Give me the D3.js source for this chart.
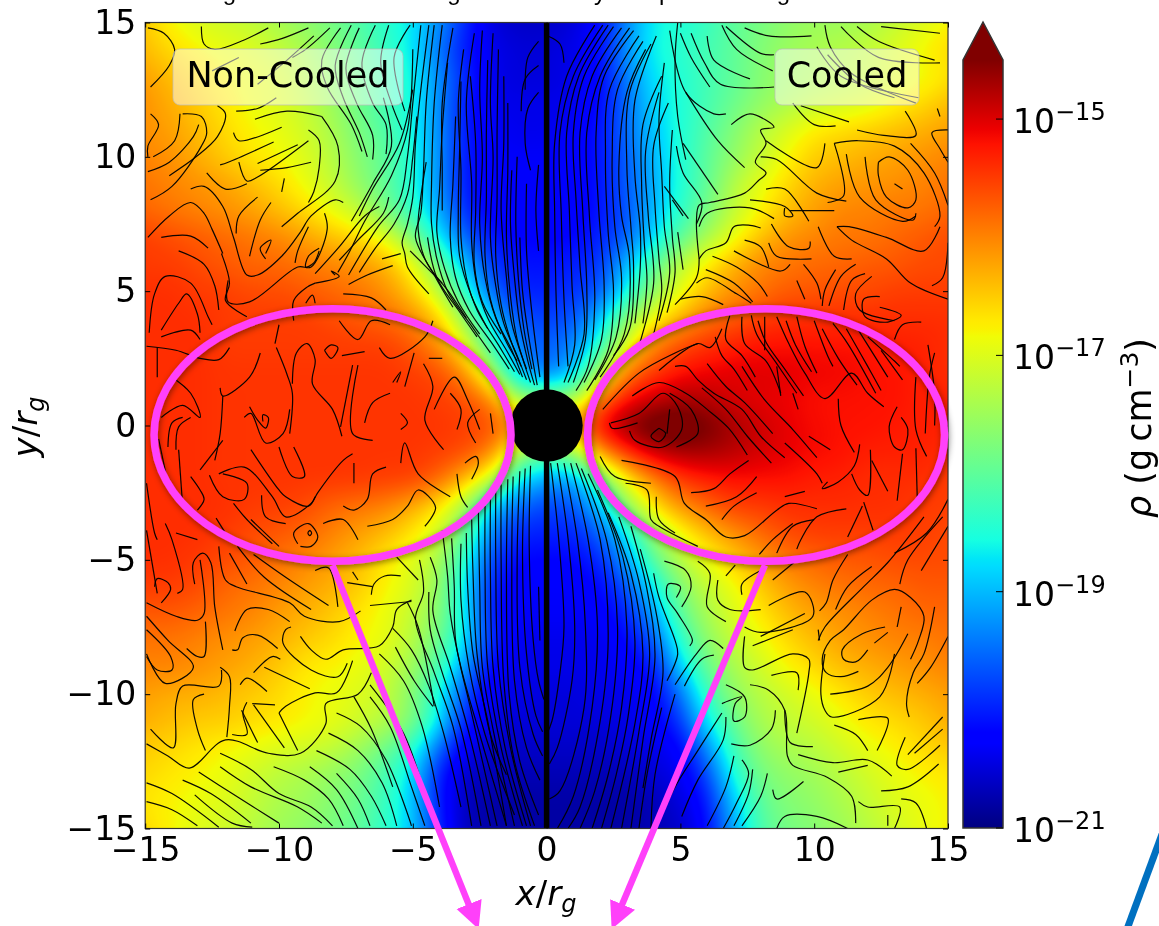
<!DOCTYPE html>
<meta charset="utf-8">
<style>
  html, body { margin: 0; background: #fff; overflow: hidden; }
  #wrap { position: relative; width: 1159px; height: 926px; filter: blur(0.45px); }
  canvas, svg { position: absolute; left: 0; top: 0; }
  text { font-family: "DejaVu Sans", sans-serif; fill: #000; }
</style>

<div id="wrap"></div>

<!-- Load d3.js -->
<script src="https://d3js.org/d3.v7.min.js"></script>

<script>

// tick values
var xTicks = [-15, -10, -5, 0, 5, 10, 15];
var yTicks = [-15, -10, -5, 0, 5, 10, 15];
var cbarTicks = [-21, -19, -17, -15];

// log10 density, rows from y=15 down to y=-15, columns from x=-15 to x=15
var rhoRows = [
  [-16.5,-16.8,-17.0,-17.1,-17.2,-17.4,-17.6,-17.8,-18.1,-18.4,-18.7,-19.3,-20.0,-20.5,-20.6,-20.6,-20.5,-20.2,-19.3,-18.6,-18.5,-18.3,-18.0,-17.8,-17.6,-17.5,-17.5,-17.4,-17.2,-17.0,-16.8],
  [-16.4,-16.6,-16.8,-16.9,-17.0,-17.2,-17.4,-17.7,-18.0,-18.3,-18.7,-19.5,-20.1,-20.4,-20.5,-20.5,-20.4,-20.2,-19.2,-18.6,-18.4,-18.2,-18.0,-17.7,-17.5,-17.4,-17.3,-17.2,-17.0,-16.8,-16.6],
  [-16.2,-16.4,-16.6,-16.8,-16.9,-17.0,-17.3,-17.6,-17.9,-18.2,-18.6,-19.3,-20.0,-20.4,-20.5,-20.5,-20.4,-20.2,-19.4,-18.7,-18.5,-18.2,-18.0,-17.7,-17.5,-17.4,-17.3,-17.2,-17.0,-16.9,-16.7],
  [-16.1,-16.3,-16.5,-16.7,-16.9,-17.0,-17.2,-17.5,-17.9,-18.2,-18.6,-19.3,-20.1,-20.4,-20.4,-20.4,-20.4,-20.2,-19.5,-18.8,-18.5,-18.2,-17.9,-17.6,-17.4,-17.2,-17.1,-17.0,-16.8,-16.6,-16.4],
  [-16.1,-16.2,-16.4,-16.6,-16.8,-16.9,-17.1,-17.4,-17.8,-18.1,-18.6,-19.3,-20.1,-20.3,-20.4,-20.4,-20.3,-20.1,-19.5,-18.9,-18.5,-18.1,-17.7,-17.3,-17.0,-16.7,-16.6,-16.5,-16.4,-16.3,-16.2],
  [-16.0,-16.1,-16.3,-16.5,-16.7,-16.8,-17.0,-17.3,-17.7,-18.0,-18.5,-19.3,-20.1,-20.3,-20.3,-20.3,-20.3,-20.1,-19.6,-19.0,-18.5,-18.0,-17.6,-17.2,-16.8,-16.5,-16.4,-16.3,-16.2,-16.1,-16.0],
  [-15.9,-16.0,-16.1,-16.2,-16.4,-16.6,-16.9,-17.2,-17.6,-18.0,-18.5,-19.3,-20.1,-20.3,-20.3,-20.3,-20.3,-20.1,-19.6,-19.1,-18.5,-18.0,-17.3,-16.9,-16.6,-16.3,-16.2,-16.1,-16.1,-16.0,-15.9],
  [-15.8,-15.9,-16.0,-16.1,-16.2,-16.4,-16.6,-16.9,-17.2,-17.8,-18.4,-19.1,-20.0,-20.3,-20.3,-20.3,-20.3,-20.1,-19.7,-19.0,-18.4,-17.8,-17.2,-16.8,-16.4,-16.2,-16.0,-16.0,-15.9,-15.9,-15.8],
  [-15.5,-15.6,-15.7,-15.8,-15.9,-16.0,-16.2,-16.4,-16.6,-16.9,-17.7,-18.7,-19.6,-20.1,-20.2,-20.2,-20.2,-20.0,-19.6,-18.8,-18.0,-17.4,-16.9,-16.4,-16.1,-16.0,-15.9,-15.9,-15.8,-15.7,-15.6],
  [-15.5,-15.5,-15.6,-15.7,-15.8,-15.8,-15.9,-16.0,-16.1,-16.3,-16.8,-17.9,-19.0,-19.9,-20.1,-20.1,-20.0,-19.9,-19.0,-18.0,-17.2,-16.7,-16.3,-16.0,-15.9,-15.8,-15.8,-15.7,-15.7,-15.6,-15.6],
  [-15.4,-15.4,-15.5,-15.5,-15.6,-15.6,-15.7,-15.8,-15.9,-16.1,-16.5,-17.2,-18.5,-19.6,-20.0,-20.0,-19.9,-19.7,-18.6,-17.6,-16.9,-16.4,-16.1,-15.9,-15.7,-15.7,-15.6,-15.6,-15.5,-15.5,-15.5],
  [-15.4,-15.4,-15.4,-15.5,-15.5,-15.5,-15.5,-15.6,-15.7,-15.8,-16.0,-16.5,-17.6,-19.0,-19.7,-19.8,-19.7,-19.0,-17.6,-16.8,-16.3,-15.9,-15.7,-15.5,-15.4,-15.4,-15.4,-15.4,-15.4,-15.4,-15.4],
  [-15.4,-15.4,-15.4,-15.5,-15.5,-15.5,-15.5,-15.5,-15.5,-15.5,-15.7,-16.1,-16.9,-18.4,-19.5,-19.6,-19.4,-18.4,-16.9,-16.0,-15.6,-15.4,-15.3,-15.2,-15.2,-15.2,-15.2,-15.2,-15.3,-15.3,-15.4],
  [-15.4,-15.4,-15.4,-15.45,-15.45,-15.45,-15.45,-15.45,-15.45,-15.45,-15.5,-15.6,-16.1,-17.4,-19.2,-19.6,-19.0,-17.4,-15.9,-15.5,-15.2,-15.1,-15.0,-15.0,-15.0,-15.1,-15.1,-15.2,-15.2,-15.3,-15.4],
  [-15.4,-15.4,-15.4,-15.45,-15.45,-15.45,-15.45,-15.45,-15.45,-15.45,-15.45,-15.5,-15.6,-16.0,-17.5,-17.5,-17.5,-15.9,-15.2,-14.9,-14.7,-14.8,-15.0,-15.05,-15.1,-15.2,-15.2,-15.2,-15.2,-15.3,-15.3],
  [-15.4,-15.4,-15.4,-15.45,-15.45,-15.45,-15.45,-15.45,-15.45,-15.45,-15.45,-15.45,-15.5,-15.6,-16.0,-16.0,-16.0,-15.0,-14.5,-14.2,-14.2,-14.4,-14.7,-14.9,-15.05,-15.15,-15.2,-15.2,-15.25,-15.3,-15.3],
  [-15.4,-15.4,-15.4,-15.45,-15.45,-15.45,-15.45,-15.45,-15.45,-15.45,-15.45,-15.5,-15.6,-16.0,-17.5,-18.0,-17.5,-16.2,-15.4,-14.9,-14.7,-14.7,-14.8,-14.95,-15.05,-15.15,-15.2,-15.3,-15.3,-15.3,-15.4],
  [-15.4,-15.4,-15.4,-15.45,-15.45,-15.45,-15.45,-15.45,-15.45,-15.5,-15.5,-15.8,-16.4,-17.2,-18.8,-19.2,-19.3,-18.0,-16.8,-16.0,-15.5,-15.3,-15.2,-15.2,-15.2,-15.3,-15.3,-15.4,-15.4,-15.4,-15.5],
  [-15.4,-15.4,-15.4,-15.4,-15.5,-15.5,-15.6,-15.8,-15.9,-16.0,-16.3,-16.7,-17.5,-19.0,-19.6,-19.8,-19.7,-19.0,-17.6,-16.7,-16.1,-15.8,-15.5,-15.5,-15.4,-15.4,-15.4,-15.4,-15.4,-15.5,-15.5],
  [-15.4,-15.4,-15.4,-15.5,-15.6,-15.7,-15.8,-16.0,-16.2,-16.4,-16.7,-17.1,-18.0,-19.5,-20.0,-20.0,-20.0,-19.6,-18.7,-17.5,-16.9,-16.4,-16.1,-15.8,-15.6,-15.5,-15.5,-15.5,-15.5,-15.5,-15.6],
  [-15.4,-15.4,-15.5,-15.6,-15.7,-15.9,-16.0,-16.2,-16.4,-16.7,-17.0,-17.4,-18.5,-19.9,-20.2,-20.2,-20.2,-20.0,-19.2,-18.0,-17.3,-16.9,-16.5,-16.2,-15.9,-15.8,-15.7,-15.7,-15.6,-15.6,-15.6],
  [-15.5,-15.5,-15.6,-15.8,-15.9,-16.0,-16.2,-16.3,-16.5,-16.8,-17.0,-17.6,-18.8,-20.1,-20.3,-20.3,-20.3,-20.2,-19.7,-18.7,-17.7,-17.2,-16.9,-16.5,-16.2,-16.0,-15.9,-15.8,-15.8,-15.7,-15.7],
  [-15.7,-15.7,-15.8,-15.9,-16.0,-16.2,-16.3,-16.5,-16.7,-16.9,-17.2,-17.7,-18.7,-20.2,-20.3,-20.3,-20.3,-20.3,-20.0,-19.2,-18.0,-17.4,-17.0,-16.7,-16.4,-16.2,-16.1,-16.0,-15.9,-15.8,-15.8],
  [-15.9,-15.9,-16.0,-16.1,-16.2,-16.3,-16.5,-16.6,-16.8,-16.9,-17.3,-17.9,-18.8,-20.0,-20.4,-20.4,-20.4,-20.4,-20.2,-19.7,-18.4,-17.6,-17.2,-16.9,-16.6,-16.4,-16.2,-16.1,-16.0,-16.0,-15.9],
  [-16.0,-16.0,-16.1,-16.2,-16.3,-16.5,-16.7,-16.8,-16.9,-17.1,-17.5,-18.2,-19.3,-20.3,-20.4,-20.4,-20.4,-20.4,-20.3,-20.1,-18.9,-17.9,-17.4,-17.1,-16.8,-16.6,-16.4,-16.3,-16.2,-16.1,-16.0],
  [-16.2,-16.3,-16.3,-16.4,-16.5,-16.6,-16.8,-16.9,-17.0,-17.2,-17.7,-18.6,-19.8,-20.4,-20.4,-20.5,-20.5,-20.4,-20.4,-20.3,-19.5,-18.3,-17.6,-17.3,-17.1,-16.9,-16.7,-16.5,-16.4,-16.3,-16.2],
  [-16.3,-16.4,-16.5,-16.5,-16.6,-16.7,-16.8,-16.9,-17.1,-17.3,-17.7,-18.7,-20.1,-20.5,-20.5,-20.5,-20.5,-20.5,-20.4,-20.3,-19.9,-18.7,-17.9,-17.4,-17.2,-17.1,-16.9,-16.7,-16.6,-16.5,-16.3],
  [-16.5,-16.6,-16.7,-16.8,-16.9,-17.0,-17.1,-17.2,-17.5,-17.9,-18.4,-19.6,-20.4,-20.6,-20.6,-20.6,-20.6,-20.6,-20.5,-20.4,-20.3,-19.3,-18.2,-17.6,-17.4,-17.3,-17.1,-16.9,-16.8,-16.6,-16.5],
  [-16.6,-16.7,-16.8,-16.9,-17.1,-17.3,-17.4,-17.6,-17.8,-18.2,-18.8,-20.1,-20.6,-20.7,-20.7,-20.7,-20.7,-20.7,-20.7,-20.5,-20.4,-19.8,-18.5,-17.8,-17.6,-17.5,-17.3,-17.1,-16.9,-16.8,-16.7],
  [-16.7,-16.8,-16.9,-17.0,-17.2,-17.4,-17.5,-17.7,-17.9,-18.3,-18.9,-20.1,-20.7,-20.8,-20.8,-20.8,-20.8,-20.8,-20.8,-20.7,-20.5,-20.1,-18.9,-18.0,-17.7,-17.6,-17.4,-17.2,-17.0,-16.9,-16.8],
  [-16.6,-16.8,-17.0,-17.1,-17.3,-17.5,-17.6,-17.8,-18.0,-18.4,-18.9,-20.0,-20.7,-20.8,-20.8,-20.8,-20.8,-20.8,-20.8,-20.7,-20.6,-20.2,-19.1,-18.1,-17.8,-17.7,-17.5,-17.3,-17.1,-16.9,-16.8]
];

var linesUpperLeft = [
  [-14.9,14.8,-14.3,14.6,-13.9,14.0,-14.1,13.4,-14.8,12.6],
  [-12.9,14.85,-12.8,14.2,-12.4,14.0,-11.3,14.35,-10.4,14.8],
  [-10.7,14.2,-9.9,14.4,-8.9,14.8],
  [-12.5,13.2,-11.5,13.7],
  [-8.7,14.5,-9.7,13.6,-10.8,12.7],
  [-8.1,14.8,-9,14,-9.5,13.7],
  [-11.6,11.7,-10.8,11.8,-10.1,12.2],
  [-14.8,11.6,-14.5,11.2,-14.9,10.4,-14.9,10],
  [-14.7,10,-13.9,10.6,-13.7,11.6],
  [-14.9,9.45,-14.1,9.8,-13.2,10.75,-13,11.2],
  [-14.8,8.4,-14,8.9,-12.9,10.4,-12.7,10.9,-12.9,11.5,-13.6,11.6],
  [-14.1,9.3,-13.1,10,-12.3,10.75,-12,11.6,-12.3,11.9],
  [-14.9,7,-14.1,7.8,-13.3,8.3,-12.8,7.9,-12.5,7.3,-12.1,6.4],
  [-13.3,8.8,-12.8,8.9,-12.1,8.15,-11.7,7,-11.2,5.6,-10.8,5.6,-9.9,6.3,-9.2,7.2,-8.8,7.8,-7.9,8.4,-7.6,8.3],
  [-12.7,9.4,-12,8.8,-11.2,9],
  [-11.7,10.9,-11.5,10.6,-9.9,11.1],
  [-10.9,11.4,-9.7,11.7,-8.4,11.5],
  [-12.2,9.7,-11.9,9.8,-10.2,10.55],
  [-11.5,9.8,-11.2,9.1,-10.8,9.25,-8.9,10.6],
  [-10.8,9.75,-9.3,10.45],
  [-10.7,9.5,-9.7,9.6,-8.8,9.8],
  [-9.8,9.2,-9.9,8.7],
  [-8.9,11,-8.5,10.6,-8.5,9.6,-8.7,8.7,-8.9,8.3],
  [-8.4,11.5,-7.8,10.4,-7.9,9.1,-9.3,7.9,-9.9,7.4],
  [-10.8,8.5,-11.5,7.8,-11.6,7.15],
  [-10.3,8.3,-10.7,7.65,-11.1,6.3],
  [-10.5,6.2,-10.7,6.6,-10.3,6.9,-10.5,6.4],
  [-8.9,7.4,-9.3,6.5,-9.4,6.05],
  [-8.5,6.6,-8.9,6.3,-9,5.9,-8.7,6.05,-8.5,6.5],
  [-8.3,7.9,-8.2,7.3,-8.8,5.9,-9.3,5.9,-11.1,4.6,-11.9,4.6,-11.9,5.4],
  [-14.85,3.45,-14.65,4.9,-14.25,5.55,-13.3,5.3,-12.65,4.05,-12.5,3.75],
  [-14.4,3.55,-13.75,4.55,-13.45,4.9,-13.05,4.15,-12.95,3.45],
  [-14.4,3.3,-13.3,3.55,-12.95,3.2],
  [-14.95,2.95,-13.85,2.8,-12.95,2.5,-12.25,2.45,-11.85,2.9],
  [-14.55,1.8,-14.55,2.9],
  [-14.4,7,-13.3,7.05,-12.65,6.6],
  [-13.75,6.5,-12.8,6,-12.4,5.2,-12.25,4.3],
  [-12.15,6.4,-11.85,5.3,-12,4.65,-11.2,4.05],
  [-9.45,3.9,-9.45,4.65,-8.95,5.15,-8.65,5.3],
  [-9,4.55,-8.75,4.85,-8.65,4.55],
  [-8.65,5.3,-7.75,5.55,-8.05,5.75,-7.9,5.6],
  [-7.6,4.9,-6.55,4.75,-6,4.3],
  [-7.4,5.25,-6.7,5.6,-5.75,5.95],
  [-6.15,6.2,-5.45,6.4],
  [-7.75,6.15,-7.05,6.9,-6.1,7.9,-5.9,8.5],
  [-8.65,5.65,-7.75,6.65,-6.8,7.8,-6.25,8.15],
  [-7.7,14.8,-8.4,13.6,-8.2,12.6,-7.3,11.2,-6.9,10.2],
  [-7.3,14.9,-7.9,13.4,-7.6,12.2,-7,10.9,-6.7,10],
  [-7,14.8,-7.5,13.3,-7.1,12,-6.5,10.8,-6.5,9.9],
  [-6.4,14.9,-6.9,13.5,-6.5,12,-6,11.2,-6,10.1],
  [-5.9,14.9,-6.2,13.5,-5.8,12,-5.4,11],
  [-5.1,14.9,-5.7,13.7,-5.3,11.7],
  [-6.1,12.2,-5.8,10.4,-6.5,9,-7.3,7.6],
  [-5,12.5,-5.5,10.5,-6.5,8.8,-7,7.8],
  [-5,14,-5.2,11,-5.8,9.3,-6.8,7.6,-7.4,6.4,-7.8,5.7],
  [-4.7,14.9,-5,12,-5.2,10,-5.5,8.4,-6.3,7.4,-7.4,5.6],
  [-4.85,11.5,-5,10,-5.2,8.6,-5.7,7.5,-6.4,6.6,-7,5.7],
  [-4.4,14.9,-4.7,12.5,-4.9,10.5,-5,8.5,-5.2,7.5,-5.4,6.8,-5.3,6.4,-5.2,5.9,-4.4,4.9],
  [-5.1,6.5,-3.9,5.3],
  [-4.5,9.8,-4.7,8.5,-4.8,7.3,-4.5,6.1,-3.6,4.9,-3,4],
  [-4.45,7,-4.1,5.5,-3.3,4.3,-2.6,3.3]
];

var linesFunnelTop = [
  [-4.2,14.9,-4.5,12,-4.6,9.5,-4.7,7.9,-4.9,7.0,-4.2,5.6,-3.5,4.4],
  [-3.9,14.9,-4.2,12,-4.3,9,-4.3,7.5,-4.1,6.2,-3.7,5,-2.8,3.7,-2.1,2.7],
  [-3.7,13.5,-3.9,11,-4,8.8,-4.1,7.2,-3.8,5.8,-3.3,4.6,-2.5,3.4],
  [-3.5,14.8,-3.9,12,-3.9,9.5,-3.9,8],
  [-3.4,11.5,-3.5,9,-3.6,7,-3.4,5.5,-2.9,4.3,-2,3,-1.4,2.1],
  [-3.2,12.8,-3.25,10.3,-3.3,8,-3.25,6.3,-2.8,4.8,-2.2,3.6],
  [-3.1,14,-3.3,12,-3.2,9.5,-3.2,7,-3,5.5,-2.6,4.3,-1.8,3,-1.2,2],
  [-2.85,13,-2.65,10.5,-2.65,8,-2.7,6,-2.4,4.6,-1.7,3.4],
  [-2.7,14.6,-3,12,-2.8,9,-2.8,6.8,-2.6,5.2,-2.2,4,-1.5,2.8,-1,1.9],
  [-2.4,14.7,-2.5,12.5,-2.4,10,-2.5,7.5,-2.3,5.5,-1.9,4,-1.3,2.8,-0.9,1.8],
  [-2.2,13.6,-2.25,11,-2.25,8.5,-2.3,6.3,-2.1,4.7,-1.6,3.3,-1.1,2.4],
  [-2,14.6,-2.1,12,-2,10,-2.1,7,-1.9,5.2,-1.6,3.8,-1.1,2.6,-0.75,1.7],
  [-1.8,14,-1.85,11,-1.85,8.5,-1.9,6.3,-1.7,4.5,-1.35,3.2,-0.95,2.2],
  [-1.6,13,-1.6,10.5,-1.7,8,-1.5,5.5,-1.3,3.8,-0.9,2.5,-0.6,1.6],
  [-1.45,12,-1.45,9.5,-1.5,7,-1.35,4.8,-1.1,3.2,-0.75,2.1],
  [-1.3,9.5,-1.35,7.5,-1.2,5.5,-1,3.8,-0.7,2.4,-0.45,1.5],
  [-1.1,10,-1.15,7.5,-1.05,5.4,-0.85,3.6,-0.55,2.1],
  [-1,7,-0.9,5,-0.7,3.5,-0.35,1.5],
  [-0.75,9,-0.75,6.5,-0.55,4.2,-0.25,1.8],
  [-0.3,14.3,-0.7,13.7,-0.8,12.5],
  [-0.3,13.4,-0.8,12.9,-0.95,11.7],
  [-0.3,12.4,-0.7,11.8,-0.8,10.5,-0.6,9.5],
  [-0.3,9.7,-0.4,8,-0.3,6.5],
  [0.05,14.5,0.5,14.2,0.65,13.5],
  [1.8,14.9,0.75,13,0.3,10.5,0.3,8,0.35,5,0.45,2.2],
  [2.1,14.9,1,13,0.5,10.9,0.55,7.8,0.65,4.7,0.8,2.2],
  [2.3,14.9,1.2,13,0.75,10.9,0.85,8,0.95,5.2,1.05,3,0.65,1.6],
  [2.5,14.85,1.4,13,1,10.9,1.1,8.4,1.25,5.9,1.4,3.4,0.8,1.6],
  [2.8,14.8,1.7,13,1.25,10.9,1.35,8,1.5,5.2,1.45,3.2,1,1.6],
  [3.1,14.8,2,13,1.5,10.9,1.6,7.8,1.8,4.7,1.55,2.2,1.1,1.3],
  [3.25,14.7,2.15,13,1.85,10.9,1.95,8,2.15,5.2,2.05,3.2,1.4,1.6],
  [3.45,14.5,2.35,12.5,2.2,10,2.3,7.2,2.5,5,2.3,2.8,1.5,1.3],
  [3.6,14.3,2.65,12.5,2.45,10,2.55,7.4,2.8,5.5,2.6,3.3,1.8,1.7],
  [3.7,14,3,12.4,2.7,9.6,2.8,7.8,3.1,6.2,2.9,3.4,2,1.8],
  [3.9,14.2,3.1,12.4,3,9.6,3.15,7.4,3.25,5.9,3.1,3.6,2.5,2.6],
  [4.1,14.5,3.3,12.1,3.3,9.3,3.5,7.3,3.5,5.9,3.3,3.8],
  [4.3,13,3.6,11.2,3.55,9,3.65,6.8,3.75,5.4,3.6,3.8],
  [4.2,12.4,3.7,10.2,3.8,7.8,4,5.3,3.4,2.8],
  [4.55,12,4,10.4,4.05,8.2,4.2,6.2,4.3,5,4.0,3.4],
  [4.4,13.5,4.2,11.4,4.3,9.4,4.4,7.4,4.6,5.7,4.2,3.9],
  [4.7,11,4.6,9,4.7,7,4.8,5.7,4.5,4.2]
];

var linesUpperRight = [
  [4.9,15,4.8,13.6,4.9,11.5,5.2,9.9],
  [5,14.6,5.4,13.7,6.1,12.6],
  [4.6,14.7,5.2,12.4,6.25,11.6,6.7,11.6],
  [5.4,14.6,5.9,13.5,6.5,12.7,8.5,12.6],
  [6,14.5,6.25,13.6,7.6,12.9],
  [6.55,14.9,7.1,14,8.45,13.2],
  [7.4,14.8,8.3,14.5,9.9,14.5],
  [6.7,14.85,8,13.85,8.5,13.8],
  [10.4,14.9,10.6,14.1,11.4,13.1,13.8,12],
  [10.1,14.1,11,13,13.9,12.2],
  [10.5,13.8,11.7,12.7,13,12.2],
  [11,14.85,12.4,13.7,14.7,13.5],
  [11.6,14.85,12.4,14.3,14.5,13.6],
  [12.5,14.85,14.7,14.6],
  [9.2,12,10,11.2,10.8,11.15],
  [9.5,11.9,11.3,11.3],
  [11.6,11,12.6,10.8,13.8,10.8,13.4,11.7],
  [14.6,11.8,14.7,11.5],
  [15,11,14.4,10.9,14.7,10.3,15,9.8],
  [13,9,13.3,8.8],
  [12.4,9.8,12.8,10,13.5,9.5,13.8,8.4,13.5,8.1,12.7,8.5,12.4,9.3,12.4,9.8],
  [11.9,10,12.3,8.4,13.7,7.65,13.8,7.9],
  [11.2,10.1,11.7,8.5,13.3,7.6,13.8,7.8],
  [10.75,10.5,11.1,8.55,10.5,8.3],
  [8,10,8.6,9.9,10.1,8.65,11.2,8.35],
  [10.75,10.5,11.6,10.6,13,10.4,14.1,9.4,14.7,7.8,14.5,7.4],
  [13.6,10.5,14.5,9.4,15,8.2],
  [8.2,10.6,10.1,9.6,10.4,10.5],
  [6.9,11.2,7.6,11.6,8.5,11.1,8,11,8.2,10.5,7.8,9.8,8.2,9.4,7.9,9.1,7.4,8.65,6.1,8.3,5.7,8.2,5.6,7.6,5.7,6.2],
  [5.1,10.5,6.4,8.6],
  [5.2,12.4,6.4,10.6,7.4,9.6],
  [4.85,10.4,5.1,9.4,5.8,8.3,5.6,7.5],
  [4.4,8.9,5.3,7.7],
  [4.7,8.4,5.1,7.8],
  [4.9,7.2,5.1,5.8],
  [5.7,7.4,6,7.9,7.6,8.1,8.5,7.7],
  [7.6,8.4,8.9,8.15,9.2,7.8,8.9,7.8,8.9,8.1],
  [8.2,8.8,8.9,8.8,9.8,7.6],
  [9.1,8,10.75,8],
  [8.4,7.5,9.05,6.65,9.8,6.6,9.85,6.85],
  [10.15,7.4,10.75,6.3,11.4,6.2],
  [10.85,7.4,11.3,7.4,12.7,7,14.1,6.5,14.7,7.4],
  [10.85,7.4,11.4,6.9,12.7,6.2,13.6,5.3,15,4.7],
  [15,6.8,14.8,5.5,14.4,5.2],
  [5.7,6.2,5.95,6.5,6.7,6.8,7,7.4,7.6,7.45,8,7.35],
  [7.4,6.9,8,6.65,8.3,5.9],
  [8.3,6.8,8.6,6.3,9.9,6.2],
  [7,6.5,8.75,5.75,9.1,6],
  [6.2,6.3,7.1,5.9,7.9,5.3,8.25,4.8],
  [5.95,5.8,7,5.3,7.7,4.6],
  [5.6,5.3,6,5.5,7.1,4.9,7.65,4.55],
  [5,4.7,5.8,4.8,6.6,4.5],
  [4.8,4.5,5.6,5.5,5.7,6.2],
  [9.6,6,10.1,5.3,10.25,4.7],
  [9.35,5.4,9.65,4.7],
  [10.8,5.8,10.4,5.05,10.3,4.45],
  [11.55,6,11,5.55,10.55,4.45],
  [11.9,5.65,11.4,5.4,11.1,4.3],
  [12.15,5.55,11.55,4.9,11.7,4.3,13,3.9],
  [12.45,4.8,11.85,4.7,11.9,4.05,12.75,3.85,13.25,4.1,12.45,4.4],
  [13,3.2,13.3,3.75,14,3.85]
];

var linesRightDisk = [
  [6.85,4.1,6.7,3.2,7.3,2.6,7.8,1.8],
  [6.3,3.3,6.55,2.6,7,2.1,7.5,1.3],
  [7.3,4.05,7.4,3.05,8.2,2.4,8.75,1.2],
  [7.65,4.1,7.85,3.4,8.6,2.3,9.35,1.2],
  [7.9,3.9,8.2,3.1,8.9,2.1,9.6,1.1],
  [8.15,4.05,8.15,2.8],
  [8.6,4.05,9.05,3.05,9.65,1.95,10.4,1,11.4,1.95,12,1.2,12.6,0.7],
  [8.95,3.9,9.3,3,9.9,2],
  [9.35,4.05,9.65,2.95,10.1,1.95],
  [10,3.9,10.5,2.6,10.7,2.2],
  [10.3,3.6,10.9,2.5,11.6,1.5],
  [10.7,3.8,11.25,3.05,12.3,1.2],
  [11.2,3.6,12,2.2,12.5,1.3],
  [11.65,3.55,12.75,1.8],
  [12,3.3,13,2.4,13.2,2.2],
  [12.5,2.8,13.3,1.7],
  [6.55,3.6,6.1,2.9,5.65,3.05,4.2,2.05],
  [5.65,3.05,4.8,2.7,3.45,1.95,2.1,0.6],
  [3.2,1.1,4.2,1.6,5.2,1.2,6,0.6,6.8,-0.1,7.5,-1.1],
  [5.8,1.4,6.7,0.6,7.5,-0.4,8.4,-1.4],
  [4.8,2.2,5.2,2.2,5.65,1.7,6.25,1.2,7.3,0.6,8,-0.4,8.9,-1.2],
  [6,2.3,6.7,1.45,7.4,0.85,8.45,-0.3],
  [7.3,2.2,8.15,0.95,9.2,-0.15,10.1,-1.2],
  [8.6,2.2,8.75,1.1],
  [9.2,1.2,9.4,0.6],
  [10.9,1,11,0,11.5,-1],
  [9.8,-0.4,10.6,-0.9],
  [2.4,0.1,3.45,0.45,4.35,1.2,4.9,0.7,5.05,-0.15,4.35,-0.8,3.3,-0.55,3.1,-0.2],
  [4.2,-0.1,3.9,-0.4,4.2,-0.6,4.45,-0.3,4.2,-0.1],
  [2.35,0.1,2.45,-0.1,3.4,0.1],
  [4.6,0.6,4.5,-0.3],
  [4.6,1.2,5.4,0.6,5.65,-0.3,4.85,-0.8],
  [13.1,0.7,12.8,-0.05,13,-0.8,13.3,-0.9,13.5,-0.15,13.25,0.3],
  [13.8,1.8,13.8,-0.15,14.2,-1.15],
  [14.5,2.7,14.3,1.8,14.15,-0.3],
  [14.25,3,14.5,1.2,14.5,0],
  [8.9,-0.65,10.1,-1.8,10.3,-2.15],
  [10.5,-2.1,10.3,-2.35,10.9,-2.1,11.5,-1.5,11.7,-0.7],
  [11.4,-1.8,11.7,-2.4,12,-2.6,12.1,-0.9],
  [12.15,-1.3,12.75,-2.45],
  [13.3,-1.05,13.1,-2.8],
  [13.8,-0.85,13.85,-2.65],
  [5.4,-2.5,6.25,-2.35,6.85,-1.8,7.55,-1.3],
  [5.95,-3,7.1,-2.65,7.85,-1.9],
  [6.55,-3.5,7,-3,7.85,-2.5],
  [2.8,-1.3,4.8,-1.9,5.15,-2.9,5.95,-3.5,6.7,-4.15,7.4,-4.1,8.6,-3.15,9.05,-2.9,10.1,-3.1],
  [8.9,-2.65,9.65,-2.45],
  [2,-1.15,2.55,-1.9,3.9,-2.15],
  [2.95,-2.15,3.75,-2.4,3.9,-3.5,4.2,-3.75,5.65,-4.5],
  [4.1,-2.65,4.2,-3.5,4.8,-4],
  [9.2,-3.65,8.45,-4.25,7.95,-4.8],
  [10,-3.5,9.2,-3.75,8.6,-4.75],
  [11.2,-3.1,10.1,-3.4,9.5,-4.25,9.35,-4.6],
  [11.85,-2.85,12.2,-3.9],
  [11.8,-3,11.25,-4.15]
];

var linesLowerRight = [
  [15,-2.75,14.2,-4,13,-4.75],
  [14.8,-3.4,13.5,-5,13.2,-5.9],
  [15,-3.75,14,-5.4],
  [14.1,-3.4,12.75,-5.1,11.85,-6,10.4,-7.5,10.15,-8],
  [11.25,-4.8,10.7,-5.75,10.45,-6.6,10.2,-6.9],
  [12.15,-5.25,11.25,-6,10.8,-6.85],
  [13.6,-8.7,13.9,-8,14.1,-7.1,13.6,-6.4,13,-6.1,12.15,-6.5,11.1,-7.6,10.6,-8,10.3,-8.7,10.45,-9.2,11,-9.35,11.65,-9.15],
  [14.5,-6.75,14.1,-8.5,13.7,-9.2,13.45,-10.35,13.55,-10.85],
  [15,-7.85,14.35,-9,13.85,-9.6],
  [13.25,-6.75,13.1,-7.5],
  [12.75,-7.7,12.25,-8.1],
  [12,-8.35,11.55,-8.8,11.1,-8.7,11.05,-8.35,11.8,-7.75,12.65,-7.5],
  [13.5,-7.75,12.75,-9,12,-9.7,10.6,-10],
  [13,-8.5,12.45,-10.1,10.65,-10.85,10.4,-10.6,10.25,-10,10.4,-8.5],
  [8.4,-9.3,9.35,-9.2,9.4,-9.85],
  [7.4,-7.85,7.4,-9,7.7,-9.1,9.2,-8.5,9.8,-8.7,9.8,-9.2,9.35,-11.45],
  [7.6,-9.65,8.3,-9.85,8.9,-10.6,9,-12.3,9.2,-12.65,10.5,-13.1,11.4,-13.8,11.55,-14.8],
  [8.9,-10.6,9.1,-11.8,9.95,-11.95],
  [9.4,-12.25,10.7,-12.55,12,-12.45,12.9,-13.05],
  [10.9,-12.9,12,-12.65],
  [10.75,-11.15,11.55,-11.5,12,-12.1],
  [11.65,-10.95,12.75,-10.9,12.35,-12.1],
  [13.4,-11.6,13.1,-12.65,13.5,-12.8,14.7,-11.9],
  [13.5,-12.25,14.8,-10.85],
  [14.8,-11.3,13.75,-12.2],
  [12.5,-13.6,13.5,-13.45,14.65,-12.6],
  [13.25,-13.9,13.8,-14.05,14.2,-15],
  [11.65,-14,12,-14.2,13.2,-14.2,13,-15],
  [12.75,-14.5,12.75,-14.9],
  [8.6,-15,8.9,-14.55,10.1,-14.55,11.25,-15],
  [8.45,-13.55,8.6,-13.9,9.6,-13.25],
  [4.4,-5.05,5.2,-5.4,5.4,-6,5.05,-6.75],
  [4.85,-6.4,5,-6,4.55,-5.9,4.5,-6.4,4.9,-7,5.45,-8,5.35,-8.2],
  [4,-5.5,4.2,-6.4,4.8,-8,4.9,-8.5,4.5,-9.5],
  [5.65,-5.05,6.1,-5.5,6,-6.75,6.7,-7.3],
  [6.4,-5.75,6.4,-6.5,6.85,-6.85,8,-6.85],
  [7.05,-5.2,6.7,-5.6],
  [8,-5.4,7.3,-5.9,7.3,-6.3],
  [9.3,-5.05,8.45,-5.75],
  [8.3,-6.7,9.65,-6.2,9.95,-7.1,8,-7.7,7.4,-7.5],
  [9.65,-7,8,-7.85],
  [9.2,-7.6,7.7,-8.2],
  [10.15,-7.6,10.2,-8],
  [6.6,-8.3,6.1,-8,5.6,-8.5,4.8,-9.65],
  [6.25,-8.55,5.8,-8.7,5.15,-9.7],
  [6.7,-9.65,7.4,-10.1,7.4,-10.85,7,-11,7.05,-10.35,7.3,-10.1,6.55,-10.35],
  [8.55,-10.6,8.4,-11.3,7.6,-11.9,6.9,-11.85],
  [6.55,-10.7,5.65,-12.1,4.8,-13.45,4.35,-14.4],
  [6.7,-10.85,6.6,-11.7,5.65,-13.2,5.05,-14.55],
  [7,-12.3,6.7,-13.45,6,-14.9],
  [7.3,-12.45,7.55,-12.95,7.1,-14.05,6.6,-15],
  [7.7,-12.8,7.55,-13.7,7,-14.9],
  [8.25,-12.95,8,-13.8,7.3,-14.9],
  [0.15,-1.4,0.45,-4.2,0.65,-7.5,0.5,-9.2,0.2,-11,0,-11.5],
  [0.4,-1.4,0.8,-4.2,1.05,-7.5,0.95,-9.5,0.4,-12,0.1,-12.6],
  [0.65,-1.4,1.15,-4.25,1.45,-7.5,1.4,-10.5,0.5,-13.6,0.1,-13.9],
  [0.9,-1.4,1.55,-4.25,1.9,-7.5,1.7,-10.5,1,-13.8,0.4,-15],
  [1.1,-1.4,2,-4.25,2.3,-8,2,-11,1.25,-14.2,0.8,-15],
  [1.3,-1.6,2.25,-4.3,2.65,-7.5,2.4,-10.8,1.8,-13.6,1.25,-15],
  [1.55,-1.8,2.55,-4.25,3,-7.5,2.8,-10.5,2.3,-13,1.7,-15],
  [1.9,-2.4,2.85,-4.9,3.3,-8,3.05,-10.8,2.6,-13,2.05,-15],
  [2.3,-3.25,3.15,-5.5,3.6,-8.5,3.3,-11.1,2.4,-15],
  [2.7,-3.4,3.45,-5.8,3.85,-8.5,3.45,-11.4,2.8,-15],
  [3.15,-3.75,3.75,-6.1,4.05,-8.6,3.6,-11.7,3.15,-15],
  [3.5,-4.6,4.1,-7,4.35,-9.2,3.9,-11.7,3.6,-13.5],
  [4.3,-10.5,3.75,-13,3.45,-15],
  [4.8,-10,4.05,-13,3.9,-15]
];

var linesLeftDisk = [
  [-12.2,1.4,-12.1,1.1,-11.1,1.8,-10.7,2.7],
  [-12.1,1.1,-12.2,-0.3,-12.4,-1.3],
  [-10.1,2.9,-9.7,1.9,-9.5,1.2,-9.6,-0.3],
  [-9.5,1.55,-9.35,2.7,-8.95,3.05,-8.65,2.45,-8.75,1.55,-8,0.6,-7.65,-0.4],
  [-8.3,2.8,-8.05,3,-7.8,2.9,-8.05,2.5,-8.3,2.8],
  [-7.65,2.6,-6.8,2.75],
  [-7.25,2.25,-7.7,-0.05],
  [-7.05,2.25,-7.25,-0.3,-6.5,-0.55],
  [-6.25,2.9,-5.85,2.5,-4.55,3.3,-4.25,3.9],
  [-5.75,1.6,-5.45,2,-5.6,1.6],
  [-6.8,0.1,-6.5,0.85,-5.85,1.2],
  [-4.95,2.7,-5.3,1.45],
  [-4.6,2.3,-4.25,1.45,-4.55,0.2,-3.85,-0.9],
  [-4.4,2.5,-3.9,2.5],
  [-4.2,0.6,-3.45,1.8,-2.95,0.95,-2.5,-0.15],
  [-3.6,1.2,-3.2,0.6,-3.35,-0.15],
  [-2.5,0.6,-2.95,0.1,-2.65,-0.65],
  [-2.1,0.45,-2,-0.3],
  [-5.45,0.45,-5.2,0.1,-5.45,-0.15],
  [-10.6,0.15,-10.6,0.4,-10.4,0.3,-10.5,-0.1,-10.8,0.2,-11.1,0.7],
  [-11.3,0.3,-11.05,0.45,-10.5,-0.65,-9.85,-0.3,-9.6,0.6],
  [-14.4,0.3,-13.6,0.75,-12.95,0.3,-13.3,1.2,-14,1.8],
  [-14.15,-0.8,-14,0.1,-13.6,0.3],
  [-13.85,-0.9,-13.75,-0.05,-13.3,0.3],
  [-10,3.75,-10.15,3.05],
  [-7.75,3.9,-7.05,3.2,-6.55,3.9,-5.85,3.75],
  [-13.75,-0.9,-13.6,-3],
  [-14.5,-0.5,-14.15,-2.15],
  [-12.95,-1.65,-12.1,-0.55],
  [-13.3,-1.9,-12.95,-2.4,-12.8,-2.75,-13.05,-3.15],
  [-12.6,-1.85,-12.1,-2.65,-11.3,-2.75,-11.2,-2.15,-12.1,-1.8],
  [-12.25,-1.8,-11.3,-1.55,-10.25,-2.65,-9.75,-3.4,-8.8,-2.9,-8.55,-2.5,-7.6,-1.3,-7.25,-1.05],
  [-11.05,-0.9,-10,-2.4,-9.75,-2.65,-8.9,-3,-8.65,-2.65],
  [-10,-0.8,-9.5,-1.9,-9.05,-1.9,-9.45,-0.8],
  [-10.65,-2.6,-10.5,-3.4,-9.75,-3.65],
  [-11.7,-2.9,-11.2,-3.5,-10.25,-4.4],
  [-12.35,-3.45,-11.85,-4.25],
  [-11.05,-3.5,-10,-4.5],
  [-9.3,-4.4,-9.45,-4,-8.9,-3.65,-8.55,-4.15,-8.8,-4.5,-9.2,-4.5],
  [-8.85,-3.9,-8.78,-4.0,-8.85,-4.1,-8.92,-4.0,-8.85,-3.9],
  [-8.35,-3.65,-7.6,-3.5,-7.05,-4.25],
  [-7.6,-3,-7.2,-3.15,-6.7,-2.75,-6.5,-1.8,-6,-1.55],
  [-7.2,-1.4,-7.2,-2.15],
  [-6.7,-3.75,-5.75,-3.5,-5.2,-3,-4.8,-2.4,-4.15,-3.05,-4.55,-3.75],
  [-5.45,-1.4,-5.3,-0.65,-4.8,-1.8,-3.6,-2.65],
  [-3.35,-1.8,-3.2,-2.65,-2.95,-3.05],
  [-3.05,-1.4,-2.65,-1.15,-2.55,-1.4,-2.8,-2]
];

var linesLowerLeft = [
  [-14.95,-2.15,-14.65,-4,-14.55,-4.25],
  [-14.95,-3.9,-14.55,-6.25],
  [-14.65,-6,-14.55,-5.7,-14.15,-5.85,-14.05,-6.1,-14.4,-6.6],
  [-14.25,-3.65,-14,-4.25,-13.6,-6.1,-13.8,-6.25],
  [-13.85,-4,-13.05,-4.25],
  [-13.15,-5.9,-13.2,-5.1,-12.85,-4.75,-12.55,-5.1,-12.4,-6.75,-12.1,-8.35],
  [-12.95,-5,-12.8,-7,-13.05,-7.25,-13.85,-7.1,-14.95,-6.6],
  [-14.95,-7.1,-14.15,-8,-13.2,-9,-14.25,-9.6,-14.95,-8.5],
  [-14.95,-7.6,-14.05,-8.6,-14,-9.1,-14.55,-9.1,-14.95,-8.6],
  [-12.75,-7.3,-12.8,-8.6,-13.05,-8.6,-13.45,-8.3],
  [-12.25,-4.5,-12,-5.75,-11.6,-6,-9.6,-6.6,-9.05,-7.1,-7.75,-7.3,-6.95,-6.9],
  [-11.85,-4.75,-11.2,-5.9],
  [-11.55,-4.5,-10.55,-5.65,-8.8,-6.85],
  [-10.95,-4.8,-9.75,-5.65,-8.15,-6.7],
  [-8.65,-5.4,-8.15,-5.3,-7.8,-6.75],
  [-7.25,-5.45,-7.05,-5.75],
  [-6.55,-6.3,-6.45,-5.9,-6.05,-5.6,-5.45,-5.6],
  [-7.45,-5.85,-6.5,-6],
  [-5.6,-4.9,-4.8,-5.75],
  [-5.05,-6.5,-5.6,-6.85,-5.75,-7.5,-6.25,-8.2,-7.6,-8.35,-8.25,-8.7,-8.8,-8.35,-9.2,-7.85],
  [-5.05,-6.55,-6.6,-6.7],
  [-14.95,-11.85,-14.15,-12.3,-13.35,-12.75,-12,-11.7,-10.4,-12.2,-9.2,-12.2,-8.25,-11.1,-8.25,-10.35,-7.05,-10,-6.55,-9.2],
  [-10,-10.7,-9.75,-10.45,-8.65,-9.95,-7.85,-9.95,-7.25,-8.75],
  [-10,-10.7,-9.45,-11.8,-9.3,-12.1],
  [-7.45,-8.85,-7.8,-9.35,-8.8,-9.1,-9.85,-8.1,-9.75,-7.6,-9.55,-7.5],
  [-11.65,-7.65,-11.2,-6.85,-10.4,-6.85,-9.6,-7.3],
  [-11.75,-8.35,-11.55,-8.35,-11.35,-7.9,-10.8,-7.8,-10.05,-8.3],
  [-10.95,-9.2,-10.25,-8.6,-9.95,-8.7],
  [-10.55,-9,-8.85,-9.8],
  [-12.2,-9,-11.85,-9.35,-11.85,-10.45,-11.95,-11.6],
  [-12.15,-9.1,-12.25,-9.7,-13.6,-9.7,-13.85,-10.35,-13.95,-12,-14.8,-11.3],
  [-12.8,-10,-13.2,-10.2,-13.05,-11.3,-12.75,-12.1],
  [-11.45,-9.65,-11.2,-9.4,-10.45,-9.9],
  [-11.75,-11.5,-11.2,-11.5,-11.35,-10.7,-11.2,-10.3],
  [-11.4,-10.6,-10.8,-11.8],
  [-11,-10.35,-10.15,-10.4],
  [-10.95,-10.4,-9.8,-12],
  [-14.95,-13.3,-14,-13.7,-12.25,-14.95],
  [-14.95,-14,-14,-14.3,-13.05,-14.9],
  [-13.6,-13.2,-12.55,-13.7,-11.05,-14.8],
  [-13.15,-13.75,-11.75,-14.8,-11,-14.95],
  [-13,-12.9,-11.75,-13.7,-10,-14.8],
  [-12.2,-12.7,-11.05,-13.45,-9.3,-14.2,-8.4,-14.8],
  [-12.2,-12.2,-11.05,-12.8,-10,-13.7,-8.8,-14.2,-8,-14.9],
  [-10.2,-12.7,-9.05,-13.2,-8.15,-13.9,-7.6,-14.9],
  [-8.85,-12.7,-7.85,-13.55,-7.05,-15],
  [-8.6,-12.1,-7.35,-12.8,-6.55,-13.8,-6,-14.9],
  [-8.15,-11.45,-7.05,-12.1,-6.15,-13.3,-5.6,-14.9],
  [-7.85,-12.95,-7.05,-13.9,-6.6,-14.9],
  [-7.85,-10.7,-6.95,-11.2,-6,-12.45,-5.05,-14.9],
  [-7.2,-10.1,-6.55,-11.3,-5.75,-13.45],
  [-6.6,-10.1,-5.85,-11.2,-5.05,-13.45,-4.55,-14.9],
  [-6.6,-9.65,-5.35,-11.45,-4.4,-14.2],
  [-6.25,-8.5,-5.35,-9.5,-4.65,-11.2,-4,-14.2],
  [-5.65,-8.25,-4.95,-9.5,-4.25,-10.45],
  [-5.75,-7.55,-5.05,-8.35,-4.4,-9.7,-3.85,-11.45,-3.2,-14.2],
  [-5.2,-6.6,-4.8,-7.5,-4.2,-10.45],
  [-4.35,-4.9,-4.1,-5.75,-4.25,-6.9,-3.6,-9,-2.9,-11.45,-2.1,-14.9],
  [-4.4,-6.2,-4.35,-7.6,-3.9,-9.2,-3.2,-11.3,-2.45,-14.9],
  [-4.75,-5,-4.6,-6.2,-4.9,-7.2,-4.2,-9.2,-3.5,-11.2,-2.8,-14.9],
  [-3.9,-3.9,-3.7,-5.6,-3.6,-7,-3.2,-9,-2.5,-11.5,-1.5,-14.9],
  [-3.55,-4.2,-3.45,-6,-3.4,-8,-2.85,-10.5,-1.85,-14.9],
  [-3.2,-4.4,-3.2,-6.5,-2.9,-9,-2.3,-11.5,-1.2,-14.5],
  [-3,-4,-2.95,-6,-2.75,-8.5,-2.2,-11,-1.5,-14.9],
  [-2.8,-3.5,-2.75,-5.5,-2.6,-8.5,-2.1,-11.5,-1.5,-13],
  [-2.55,-3.2,-2.5,-6,-2.4,-9,-1.9,-11.8,-1.2,-14.9],
  [-2.3,-3,-2.3,-5.5,-2.2,-9,-1.7,-12,-0.9,-14.9],
  [-2.1,-2.7,-2.1,-5.5,-2,-9,-1.55,-12,-0.75,-14.9],
  [-1.9,-2.4,-1.9,-5,-1.8,-9,-1.35,-12,-0.6,-14.9],
  [-1.7,-2.2,-1.7,-5,-1.6,-9.5,-1.2,-12.5,-0.45,-14.9],
  [-1.45,-2,-1.5,-5.5,-1.4,-10,-1,-12.5,-0.3,-14.5],
  [-1.25,-1.9,-1.3,-5,-1.2,-9.5,-0.75,-12,-0.25,-13.2],
  [-1,-1.7,-1.1,-5,-1,-9,-0.5,-11.5,-0.15,-12.3],
  [-0.8,-1.6,-0.9,-4.8,-0.75,-8.5,-0.4,-10.8,-0.15,-11.4],
  [-0.6,-1.5,-0.65,-4.5,-0.5,-8,-0.3,-9.5,-0.1,-10.2],
  [-0.3,-6,-0.25,-8]
];

// annotations on top of the plot, in r_g
var ellipseCentersX = [-8.0, 8.2];
var ellipseCenterY = -0.35;
var ellipseRx = 6.67;
var ellipseRy = 4.7;
var arrowStarts = [[-8.0, -5.2], [8.16, -5.2]];
var arrowEnds = [[-2.72, -18.3], [2.62, -18.3]];
var cutOffLetters = ["g", "g", "y", "p", "g"];
var cutOffLetterX = [-11.85, -3.46, 2.0, 4.45, 8.85];

// jet colormap
var jetStops = [0, 0.11, 0.125, 0.34, 0.35, 0.375, 0.64, 0.65, 0.66, 0.89, 0.91, 1];
var jetColors = ["#000080", "#0000ff", "#0000ff", "#00dbff", "#00e5f8", "#16ffe1", "#f1fc06", "#fbf100", "#ffea00", "#ff1200", "#ed0000", "#800000"];

var pageW = 1159, pageH = 926;

var x = d3.scaleLinear().domain([-15, 15]).range([145.2, 948]);
var y = d3.scaleLinear().domain([-15, 15]).range([828.5, 22.5]);
var rhoToT = d3.scaleLinear().domain([-21, -14.5]).range([0, 1]).clamp(true);
var cbarY = d3.scaleLinear().domain([-21, -14.5]).range([828, 60]);
var jet = d3.scaleLinear().domain(jetStops).range(jetColors).clamp(true);

// lookup table, calling the scale for every pixel is slow
var lut = d3.range(1024).map(function (i) { return d3.rgb(jet(i / 1023)); });

// density map
var mapW = Math.round(x(15) - x(-15)), mapH = Math.round(y(-15) - y(15));
var canvas = d3.select("#wrap").append("canvas")
  .attr("width", mapW).attr("height", mapH)
  .style("left", x(-15) + "px").style("top", y(15) + "px");
var ctx = canvas.node().getContext("2d");
var img = ctx.createImageData(mapW, mapH);
var rowSplines = rhoRows.map(function (r) { return d3.interpolateBasis(r); });
for (var i = 0; i < mapW; i++) {
  var col = d3.interpolateBasis(rowSplines.map(function (f) { return f(i / (mapW - 1)); }));
  for (var j = 0; j < mapH; j++) {
    var c = lut[Math.round(rhoToT(col(j / (mapH - 1))) * 1023)];
    var k = (j * mapW + i) * 4;
    img.data[k] = c.r; img.data[k + 1] = c.g; img.data[k + 2] = c.b; img.data[k + 3] = 255;
  }
}
ctx.putImageData(img, 0, 0);

var svg = d3.select("#wrap").append("svg").attr("width", pageW).attr("height", pageH);
var defs = svg.append("defs");

defs.append("clipPath").attr("id", "plotClip").append("rect")
  .attr("x", x(-15)).attr("y", y(15)).attr("width", x(15) - x(-15)).attr("height", y(-15) - y(15));

var shadow = defs.append("filter").attr("id", "shadow")
  .attr("x", "-10%").attr("y", "-10%").attr("width", "120%").attr("height", "120%");
shadow.append("feDropShadow").attr("dx", 1).attr("dy", 2).attr("stdDeviation", 3)
  .attr("flood-color", "#000").attr("flood-opacity", 0.45);

var grad = defs.append("linearGradient").attr("id", "cbarGrad")
  .attr("x1", 0).attr("y1", 1).attr("x2", 0).attr("y2", 0);
grad.selectAll("stop").data(jetStops).enter().append("stop")
  .attr("offset", function (d) { return d; })
  .attr("stop-color", function (d, i) { return jetColors[i]; });

defs.append("marker").attr("id", "pinkHead")
  .attr("markerUnits", "userSpaceOnUse")
  .attr("markerWidth", 30).attr("markerHeight", 30)
  .attr("refX", 14).attr("refY", 14)
  .attr("orient", "auto")
  .append("path").attr("d", "M0 0 L27 14 L0 27 Z").attr("fill", "#ff40fa");

// field lines
var line = d3.line()
  .x(function (p) { return x(p[0]); })
  .y(function (p) { return y(p[1]); })
  .curve(d3.curveCatmullRom.alpha(0.5));

function toPoints(d) {
  return d3.range(0, d.length, 2).map(function (i) { return [d[i], d[i + 1]]; });
}

var allLines = [].concat(linesUpperLeft, linesFunnelTop, linesUpperRight, linesRightDisk, linesLowerRight, linesLeftDisk, linesLowerLeft);
svg.append("g").attr("clip-path", "url(#plotClip)")
  .selectAll("path").data(allLines).enter().append("path")
  .attr("d", function (d) { return line(toPoints(d)); })
  .attr("fill", "none")
  .attr("stroke", "#000")
  .attr("stroke-opacity", 0.95)
  .attr("stroke-width", 1.2);

// centre line and black hole
svg.append("line")
  .attr("x1", x(0)).attr("x2", x(0)).attr("y1", y(15)).attr("y2", y(-15))
  .attr("stroke", "#000").attr("stroke-width", 5.5);
svg.append("ellipse")
  .attr("cx", x(0)).attr("cy", y(0))
  .attr("rx", x(1.35) - x(0)).attr("ry", y(0) - y(1.35))
  .attr("fill", "#000");

// label boxes
var labelBoxes = svg.append("g");
labelBoxes.append("rect")
  .attr("x", 173).attr("y", 49).attr("width", 230).attr("height", 56).attr("rx", 7)
  .attr("fill", "#fff").attr("fill-opacity", 0.5).attr("stroke", "#bbb").attr("stroke-opacity", 0.7);
labelBoxes.append("text").attr("x", 288).attr("y", 87).attr("text-anchor", "middle")
  .style("font-size", "35px").text("Non-Cooled");
labelBoxes.append("rect")
  .attr("x", 775).attr("y", 49).attr("width", 144).attr("height", 56).attr("rx", 7)
  .attr("fill", "#fff").attr("fill-opacity", 0.5).attr("stroke", "#bbb").attr("stroke-opacity", 0.7);
labelBoxes.append("text").attr("x", 847).attr("y", 87).attr("text-anchor", "middle")
  .style("font-size", "35px").text("Cooled");

// frame and axes, ticks point inwards
svg.append("rect")
  .attr("x", x(-15)).attr("y", y(15)).attr("width", x(15) - x(-15)).attr("height", y(-15) - y(15))
  .attr("fill", "none").attr("stroke", "#333").attr("stroke-width", 1.2);

function styleAxis(g) {
  g.select(".domain").remove();
  g.selectAll("line").attr("stroke", "#000").attr("stroke-width", 1);
  g.selectAll("text").style("font-family", '"DejaVu Sans", sans-serif').style("font-size", "33px").attr("fill", "#000");
}

svg.append("g").attr("transform", "translate(0," + y(-15) + ")")
  .call(d3.axisBottom(x).tickValues(xTicks).tickSize(-5).tickPadding(9))
  .call(styleAxis);
svg.append("g").attr("transform", "translate(" + x(-15) + ",0)")
  .call(d3.axisLeft(y).tickValues(yTicks).tickSize(-5).tickPadding(9))
  .call(styleAxis);
svg.append("g").attr("transform", "translate(0," + y(15) + ")")
  .call(d3.axisTop(x).tickValues(xTicks).tickSize(-5).tickFormat(""))
  .call(styleAxis);
svg.append("g").attr("transform", "translate(" + x(15) + ",0)")
  .call(d3.axisRight(y).tickValues(yTicks).tickSize(-5).tickFormat(""))
  .call(styleAxis);

// axis titles
var xTitle = svg.append("text").attr("x", 546).attr("y", 905).attr("text-anchor", "middle").style("font-size", "34px");
xTitle.append("tspan").style("font-style", "italic").text("x");
xTitle.append("tspan").text("/");
xTitle.append("tspan").style("font-style", "italic").text("r");
xTitle.append("tspan").style("font-style", "italic").style("font-size", "24px").attr("dy", 7).text("g");

var yTitle = svg.append("text").attr("transform", "translate(37,427) rotate(-90)").attr("text-anchor", "middle").style("font-size", "34px");
yTitle.append("tspan").style("font-style", "italic").text("y");
yTitle.append("tspan").text("/");
yTitle.append("tspan").style("font-style", "italic").text("r");
yTitle.append("tspan").style("font-style", "italic").style("font-size", "24px").attr("dy", 7).text("g");

// colorbar
var cbarX0 = 963, cbarX1 = 1003;
svg.append("rect")
  .attr("x", cbarX0).attr("width", cbarX1 - cbarX0)
  .attr("y", cbarY(-14.5)).attr("height", cbarY(-21) - cbarY(-14.5))
  .attr("fill", "url(#cbarGrad)");
svg.append("path")
  .attr("d", "M" + cbarX0 + "," + cbarY(-14.5) + "L" + ((cbarX0 + cbarX1) / 2) + ",22L" + cbarX1 + "," + cbarY(-14.5) + "Z")
  .attr("fill", jetColors[jetColors.length - 1]);
svg.append("path")
  .attr("d", "M" + cbarX0 + "," + cbarY(-21) + "V" + cbarY(-14.5) + "L" + ((cbarX0 + cbarX1) / 2) + ",22L" + cbarX1 + "," + cbarY(-14.5) + "V" + cbarY(-21) + "Z")
  .attr("fill", "none").attr("stroke", "#333").attr("stroke-width", 1.5);

var cbarTick = svg.append("g").selectAll("g").data(cbarTicks).enter().append("g");
cbarTick.append("line")
  .attr("x1", cbarX1 - 7).attr("x2", cbarX1)
  .attr("y1", function (d) { return cbarY(d); }).attr("y2", function (d) { return cbarY(d); })
  .attr("stroke", "#000");
var cbarLabel = cbarTick.append("text")
  .attr("x", 1013)
  .attr("y", function (d) { return cbarY(d) + 14; })
  .style("font-size", "33px");
cbarLabel.append("tspan").text("10");
cbarLabel.append("tspan").attr("dy", -13).style("font-size", "24px")
  .text(function (d) { return "\u2212" + Math.abs(d); });

var rhoTitle = svg.append("text").attr("transform", "translate(1151,428) rotate(-90)").attr("text-anchor", "middle").style("font-size", "35px");
rhoTitle.append("tspan").style("font-style", "italic").text("\u03c1");
rhoTitle.append("tspan").text(" (g\u2009cm");
rhoTitle.append("tspan").attr("dy", -13).style("font-size", "25px").text("\u22123");
rhoTitle.append("tspan").attr("dy", 13).text(")");

// pink ellipses and arrows
svg.selectAll("ellipse.ring").data(ellipseCentersX).enter().append("ellipse")
  .attr("class", "ring")
  .attr("cx", function (d) { return x(d); })
  .attr("cy", y(ellipseCenterY))
  .attr("rx", x(ellipseRx) - x(0))
  .attr("ry", y(0) - y(ellipseRy))
  .attr("fill", "none")
  .attr("stroke", "#ff40fa")
  .attr("stroke-width", 7.5)
  .attr("filter", "url(#shadow)");

svg.selectAll("line.arrow").data(arrowStarts).enter().append("line")
  .attr("class", "arrow")
  .attr("x1", function (d) { return x(d[0]); })
  .attr("y1", function (d) { return y(d[1]); })
  .attr("x2", function (d, i) { return x(arrowEnds[i][0]); })
  .attr("y2", function (d, i) { return y(arrowEnds[i][1]); })
  .attr("stroke", "#ff40fa")
  .attr("stroke-width", 6.5)
  .attr("marker-end", "url(#pinkHead)");

// bottom of the title line that is cut off at the top of the page
svg.selectAll("text.cut").data(cutOffLetters).enter().append("text")
  .attr("class", "cut")
  .attr("x", function (d, i) { return x(cutOffLetterX[i]); })
  .attr("y", 0)
  .attr("text-anchor", "middle")
  .style("font-family", '"Liberation Sans", sans-serif')
  .style("font-size", "24px")
  .text(function (d) { return d; });

// edge of the next panel's blue line
svg.append("line")
  .attr("x1", 1165).attr("y1", 826).attr("x2", 1126).attr("y2", 932)
  .attr("stroke", "#0070c0").attr("stroke-width", 7);

</script>
